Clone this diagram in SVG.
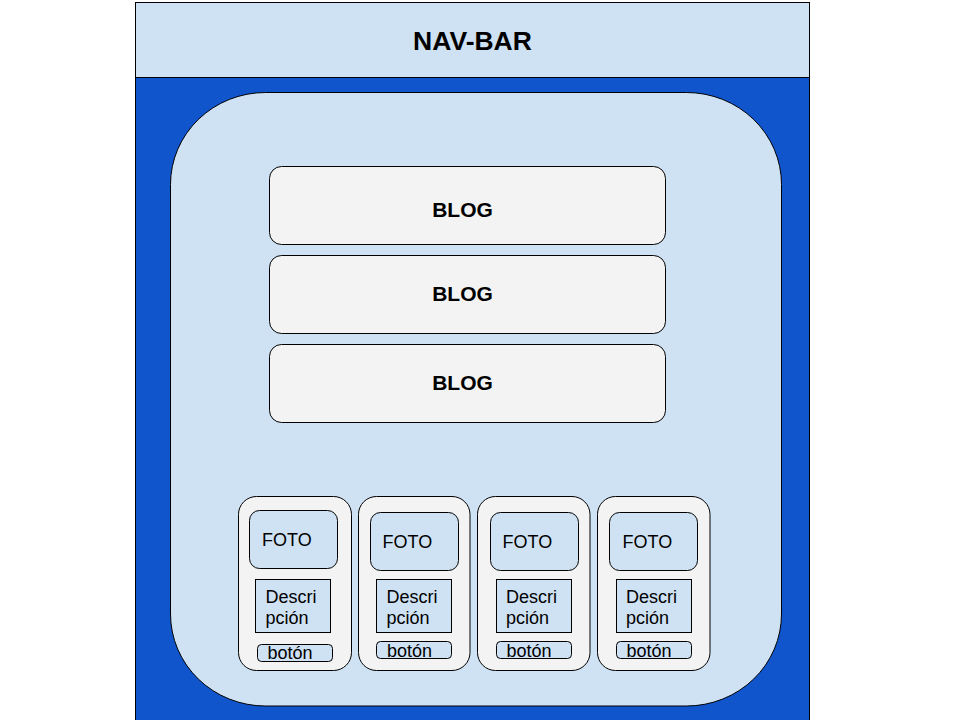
<svg xmlns="http://www.w3.org/2000/svg" width="960" height="720" viewBox="0 0 960 720">
<style>
text{font-family:"Liberation Sans",Arial,sans-serif;fill:#000}
.b{font-weight:bold}
.t{font-size:18px}
.ln{stroke:#000;stroke-width:1}
.lb{fill:#cfe2f3}
.gr{fill:#f3f3f3}
</style>
<rect width="960" height="720" fill="#fff"/>
<g id="page">
<rect class="ln" x="135.5" y="77.5" width="674" height="650" fill="#1155cc"/>
</g>
<g id="navbar">
<rect class="ln lb" x="135.5" y="2.5" width="674" height="75"/>
<text class="b" x="472.5" y="50" font-size="26.5" text-anchor="middle">NAV-BAR</text>
</g>
<g id="content">
<rect class="ln lb" x="170.5" y="92.5" width="611" height="613.5" rx="95" ry="92"/>
</g>
<g id="blog1">
<rect class="ln gr" x="269.5" y="166.5" width="396" height="78" rx="12"/>
<text class="b" x="462.5" y="217" font-size="21" text-anchor="middle">BLOG</text>
</g>
<g id="blog2">
<rect class="ln gr" x="269.5" y="255.5" width="396" height="78" rx="12"/>
<text class="b" x="462.5" y="301" font-size="21" text-anchor="middle">BLOG</text>
</g>
<g id="blog3">
<rect class="ln gr" x="269.5" y="344.5" width="396" height="78" rx="12"/>
<text class="b" x="462.5" y="390" font-size="21" text-anchor="middle">BLOG</text>
</g>
<g id="card1">
<rect class="ln gr" x="238.5" y="496.5" width="113" height="174" rx="18"/>
<rect class="ln lb" x="249.5" y="510.5" width="88" height="58" rx="10"/>
<text class="t" x="262" y="546">FOTO</text>
<rect class="ln lb" x="255.5" y="579.5" width="75" height="53"/>
<text class="t" x="265.5" y="602.5">Descri</text>
<text class="t" x="265.5" y="623.5">pción</text>
<rect class="ln lb" x="257.5" y="644.5" width="75" height="17" rx="4"/>
<text class="t" x="267.5" y="659">botón</text>
</g>
<g id="card2">
<rect class="ln gr" x="358.5" y="496.5" width="111.5" height="174" rx="18"/>
<rect class="ln lb" x="370.5" y="512.5" width="88" height="58" rx="10"/>
<text class="t" x="382.5" y="548">FOTO</text>
<rect class="ln lb" x="376.5" y="579.5" width="75" height="53"/>
<text class="t" x="386.5" y="602.5">Descri</text>
<text class="t" x="386.5" y="623.5">pción</text>
<rect class="ln lb" x="376.5" y="641.5" width="75" height="17" rx="4"/>
<text class="t" x="387" y="657">botón</text>
</g>
<g id="card3">
<rect class="ln gr" x="477.5" y="496.5" width="112.5" height="174" rx="18"/>
<rect class="ln lb" x="490.5" y="512.5" width="88" height="58" rx="10"/>
<text class="t" x="502.5" y="548">FOTO</text>
<rect class="ln lb" x="496.5" y="579.5" width="75" height="53"/>
<text class="t" x="506" y="602.5">Descri</text>
<text class="t" x="506" y="623.5">pción</text>
<rect class="ln lb" x="496.5" y="641.5" width="75" height="17" rx="4"/>
<text class="t" x="506.5" y="657">botón</text>
</g>
<g id="card4">
<rect class="ln gr" x="597.5" y="496.5" width="112.5" height="174" rx="18"/>
<rect class="ln lb" x="609.5" y="512.5" width="88" height="58" rx="10"/>
<text class="t" x="622.5" y="548">FOTO</text>
<rect class="ln lb" x="616.5" y="579.5" width="75" height="53"/>
<text class="t" x="626" y="602.5">Descri</text>
<text class="t" x="626" y="623.5">pción</text>
<rect class="ln lb" x="616.5" y="641.5" width="75" height="17" rx="4"/>
<text class="t" x="626.5" y="657">botón</text>
</g>
<g id="connectors"></g>
</svg>
